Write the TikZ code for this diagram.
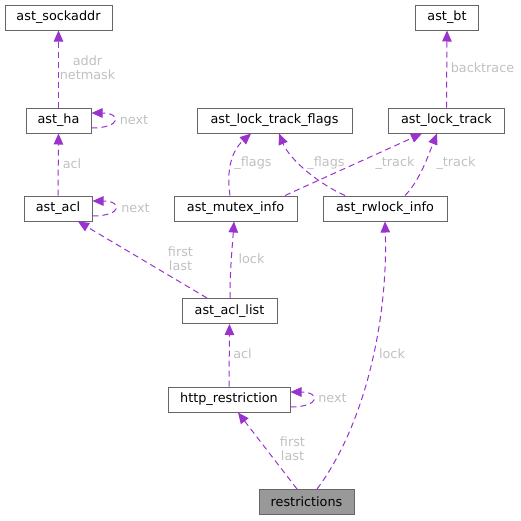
\documentclass[tikz,border=0pt]{standalone}
\usepackage{fontspec}
\setmainfont{DejaVu Sans}
\usetikzlibrary{arrows.meta}
\definecolor{edgec}{HTML}{9A32CD}
\definecolor{boxc}{HTML}{666666}
\definecolor{lblc}{HTML}{C0C0C0}
\definecolor{curfill}{HTML}{999999}
\begin{document}
\begin{tikzpicture}[x=1pt,y=-1pt,
  cls/.style={draw=boxc,line width=1pt,fill=white,minimum height=25pt,inner sep=0pt,
    font=\fontsize{12.8}{14}\selectfont,text=black},
  cur/.style={cls,fill=curfill},
  edge/.style={draw=edgec,line width=1pt,dash pattern=on 6pt off 4pt,
    -{Triangle[length=11pt,width=9.5pt]}},
  lbl/.style={text=lblc,font=\fontsize{12.8}{14}\selectfont,inner sep=0pt,align=center}]
\useasboundingbox (0,0) rectangle (521,520);
% nodes
\node[cls,minimum width=107pt] (sockaddr) at (58.5,17.5) {ast\_sockaddr};
\node[cls,minimum width=65pt] (ha) at (58.5,120.5) {ast\_ha};
\node[cls,minimum width=68pt] (acl) at (58,208.5) {ast\_acl};
\node[cls,minimum width=63pt] (bt) at (447,17.5) {ast\_bt};
\node[cls,minimum width=155pt] (flags) at (274.5,120.5) {ast\_lock\_track\_flags};
\node[cls,minimum width=116pt] (track) at (446.5,120.5) {ast\_lock\_track};
\node[cls,minimum width=123pt] (mutex) at (235.5,208.5) {ast\_mutex\_info};
\node[cls,minimum width=124pt] (rwlock) at (385,208.5) {ast\_rwlock\_info};
\node[cls,minimum width=95pt] (acllist) at (229.5,311) {ast\_acl\_list};
\node[cls,minimum width=122pt] (http) at (229,399.5) {http\_restriction};
\node[cur,minimum width=95pt] (restr) at (306.5,502) {restrictions};
% edges
\draw[edge] (ha.north) -- (sockaddr.south);
\draw[edge] ([yshift=-7.5pt]ha.east) .. controls +(30,0) and +(30,0) .. ([yshift=7.5pt]ha.east);
\draw[edge] (acl.north) -- (ha.south);
\draw[edge] ([yshift=-7.5pt]acl.east) .. controls +(30,0) and +(30,0) .. ([yshift=7.5pt]acl.east);
\draw[edge] ([xshift=-22.5pt]acllist.north) -- ([xshift=20pt]acl.south);
\draw[edge] ([xshift=0.5pt]acllist.north) .. controls +(0,-30) and +(-2,30) .. ([xshift=-1.5pt]mutex.south);
\draw[edge] ([xshift=-5.5pt]mutex.north) .. controls +(-4,-26) and +(-19,17) .. ([xshift=-23.5pt]flags.south);
\draw[edge] ([xshift=49.5pt]mutex.north) -- ([xshift=-24.5pt]track.south);
\draw[edge] ([xshift=-40pt]rwlock.north) .. controls +(-25,-11) and +(11,27) .. ([xshift=4.5pt]flags.south);
\draw[edge] ([xshift=20pt]rwlock.north) .. controls +(15,-15) and +(-8,20) .. ([xshift=-9.5pt]track.south);
\draw[edge] (track.north) -- (bt.south);
\draw[edge] (http.north) -- (acllist.south);
\draw[edge] ([yshift=-7.5pt]http.east) .. controls +(30,0) and +(30,0) .. ([yshift=7.5pt]http.east);
\draw[edge] ([xshift=-9.5pt]restr.north) -- ([xshift=9pt]http.south);
\draw[edge] ([xshift=10.5pt]restr.north) .. controls +(48,-64) and +(3,99) .. (rwlock.south);
% labels
\node[lbl] (l1) at (87.5,68) {addr\\netmask};
\node[lbl] (l2) at (134,120) {next};
\node[lbl] (l3) at (72,164) {acl};
\node[lbl] (l4) at (135.5,208) {next};
\node[lbl] (l5) at (180.5,259) {first\\last};
\node[lbl] (l6) at (251.5,259) {lock};
\node[lbl] (l7) at (253,163) {\_flags};
\node[lbl] (l8) at (326,163) {\_flags};
\node[lbl] (l9) at (395,163) {\_track};
\node[lbl] (l10) at (456,163) {\_track};
\node[lbl] (l11) at (482.5,68) {backtrace};
\node[lbl] (l12) at (242.5,354) {acl};
\node[lbl] (l13) at (332.5,398) {next};
\node[lbl] (l14) at (292.5,449) {first\\last};
\node[lbl] (l15) at (392,354) {lock};
\end{tikzpicture}
\end{document}
